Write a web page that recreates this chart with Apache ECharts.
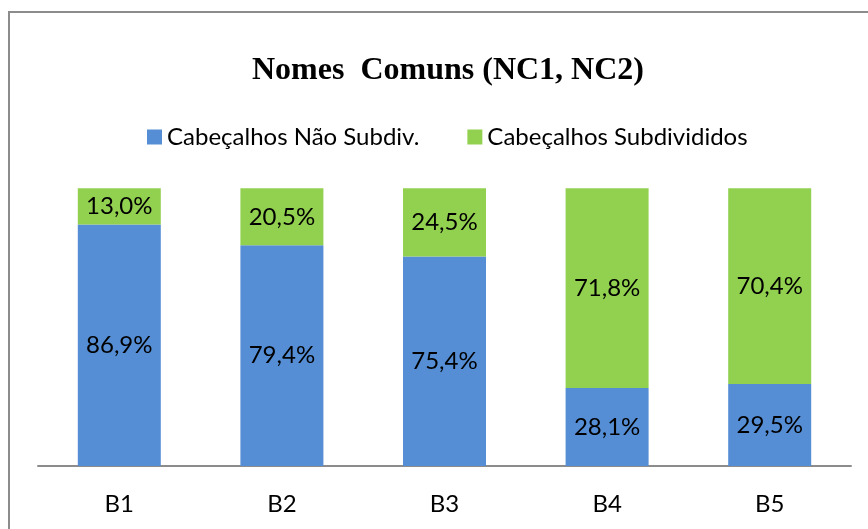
<!DOCTYPE html>
<html>
<head>
<meta charset="utf-8">
<style>
  html, body { margin: 0; padding: 0; background: #fff; }
  #chart { width: 868px; height: 529px; }
</style>
<script src="https://cdn.jsdelivr.net/npm/echarts@6/dist/echarts.min.js"></script>
</head>
<body>
<div id="chart"></div>
<script>
const categories = ["B1", "B2", "B3", "B4", "B5"];
const naoSubdiv = [86.9, 79.4, 75.4, 28.1, 29.5];
const subdivididos = [13.0, 20.5, 24.5, 71.8, 70.4];
const seriesNames = ["Cabeçalhos Não Subdiv.", "Cabeçalhos Subdivididos"];

let myChart = echarts.init(document.getElementById("chart"));

const FONT = "Lato";
const FS = 24;

// rótulo com vírgula decimal
const fmt = function (p) {
    return p.value.toFixed(1).replace(".", ",") + "%";
};

let option = {
    animation: false,
    color: ["#558ed5", "#92d050"],
    title: {
        text: "Nomes  Comuns (NC1, NC2)",
        left: 443,
        top: 50,
        textAlign: "center",
        textStyle: {
            fontFamily: "Liberation Serif",
            fontWeight: "bold",
            fontSize: 32,
            color: "#000",
        },
    },
    legend: {
        top: 120,
        left: 142,
        itemWidth: 15,
        itemHeight: 15,
        itemGap: 48,
        icon: "rect",
        textStyle: {
            fontFamily: FONT,
            fontSize: FS,
            color: "#000",
        },
        data: seriesNames,
    },
    grid: {
        left: 38,
        right: 17,
        top: 188,
        bottom: 63,
    },
    xAxis: {
        type: "category",
        data: categories,
        axisTick: { show: false },
        axisLine: {
            lineStyle: { color: "#8c8c8c", width: 2 },
        },
        axisLabel: {
            margin: 26,
            fontFamily: FONT,
            fontSize: FS,
            color: "#000",
        },
    },
    yAxis: {
        type: "value",
        min: 0,
        max: 100,
        show: false,
        splitLine: { show: false },
    },
    series: [
        {
            name: seriesNames[0],
            type: "bar",
            stack: "total",
            barWidth: 83,
            data: naoSubdiv,
            label: {
                show: true,
                position: "inside",
                formatter: fmt,
                fontFamily: FONT,
                fontSize: FS,
                color: "#000",
            },
        },
        {
            name: seriesNames[1],
            type: "bar",
            stack: "total",
            barWidth: 83,
            data: subdivididos,
            label: {
                show: true,
                position: "inside",
                formatter: fmt,
                fontFamily: FONT,
                fontSize: FS,
                color: "#000",
            },
        },
    ],
    graphic: [
        {
            type: "rect",
            shape: { x: 9, y: 12, width: 900, height: 600 },
            style: { fill: "none", stroke: "#8c8c8c", lineWidth: 2 },
            silent: true,
        },
    ],
};

myChart.setOption(option);
window.addEventListener("resize", function () {
    myChart.resize();
});
</script>
</body>
</html>
